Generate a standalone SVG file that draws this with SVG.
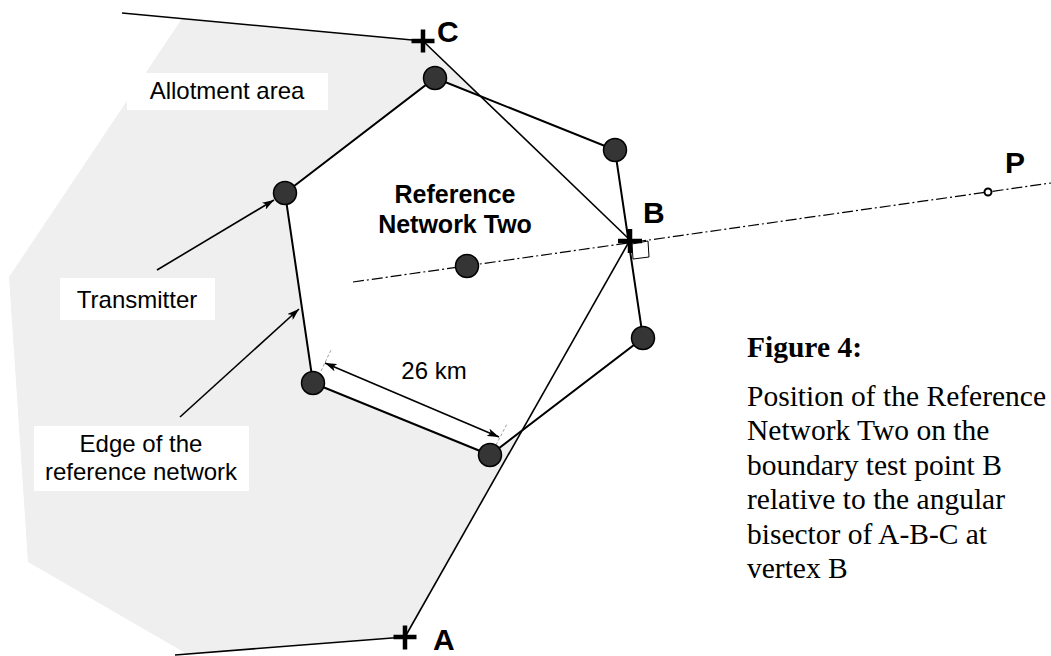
<svg xmlns="http://www.w3.org/2000/svg" width="1051" height="656" viewBox="0 0 1051 656">
<style>
.ln{stroke:#000;stroke-width:1.6;fill:none}
.edge{stroke:#000;stroke-width:2;fill:#fff}
.node{fill:#353535;stroke:#000;stroke-width:1.5}
.cross{stroke:#000;stroke-width:4.5;fill:none}
.lbl{font-family:"Liberation Sans",Arial,sans-serif;font-size:24px;fill:#000}
.blbl{font-family:"Liberation Sans",Arial,sans-serif;font-weight:bold;fill:#000}
.cap{font-family:"Liberation Serif","Times New Roman",serif;font-size:29.5px;fill:#000}
.box{fill:#fff;stroke:none}
.tick{stroke:#888;stroke-width:0.8;stroke-dasharray:3 2;fill:none}
</style>
<defs>
<marker id="ah" viewBox="0 0 12 8" refX="12" refY="4" markerWidth="12" markerHeight="8" orient="auto-start-reverse" markerUnits="userSpaceOnUse">
<path d="M0,0 L12,4 L0,8 L3,4 z" fill="#000"/>
</marker>
</defs>
<rect width="1051" height="656" fill="#fff"/>
<g id="allotment-area">
<polygon points="182,18.6 423,41 630,240 405,637 187,654 28,562 9,277" fill="#efefef"/>
</g>
<g id="reference-network">
<polygon class="edge" points="285,193 435,78 615,150 643,338 490,455 313,383"/>
</g>
<g id="connectors">
<line class="ln" x1="122" y1="13" x2="423" y2="41"/>
<line class="ln" x1="423" y1="41" x2="630" y2="240"/>
<line class="ln" x1="405" y1="637" x2="630" y2="240"/>
<line class="ln" x1="175" y1="655" x2="405" y2="637"/>
<line x1="353" y1="282" x2="1051" y2="183" stroke="#000" stroke-width="1.2" stroke-dasharray="11 3 2 3"/>
<line class="ln" x1="157" y1="270" x2="274" y2="200" stroke-width="1.3" marker-end="url(#ah)"/>
<line class="ln" x1="180" y1="417" x2="299" y2="309" stroke-width="1.3" marker-end="url(#ah)"/>
<line class="ln" x1="325" y1="363" x2="499" y2="437" stroke-width="1.3" marker-start="url(#ah)" marker-end="url(#ah)"/>
<line class="tick" x1="321" y1="371" x2="331" y2="350"/>
<line class="tick" x1="496" y1="445" x2="507" y2="424"/>
</g>
<g id="transmitters">
<circle class="node" cx="435" cy="78" r="11.5"/>
<circle class="node" cx="615" cy="150" r="11.5"/>
<circle class="node" cx="643" cy="338" r="11.5"/>
<circle class="node" cx="490" cy="455" r="11.5"/>
<circle class="node" cx="313" cy="383" r="11.5"/>
<circle class="node" cx="285" cy="193" r="11.5"/>
<circle class="node" cx="467" cy="266" r="11.5"/>
</g>
<g id="point-C">
<path class="cross" d="M411.5,41 H434.5 M423,29.5 V52.5"/>
<text class="blbl" x="437" y="42" font-size="30">C</text>
</g>
<g id="point-B">
<polygon points="632,244 648,241 649,257 633,259" fill="#fff" stroke="#000" stroke-width="1"/>
<path class="cross" d="M618,241 H642 M630,229 V253"/>
<text class="blbl" x="643" y="223" font-size="30">B</text>
</g>
<g id="point-A">
<path class="cross" d="M393.5,637 H416.5 M405,625.5 V649.5"/>
<text class="blbl" x="433" y="650" font-size="30">A</text>
</g>
<g id="point-P">
<circle cx="988" cy="192" r="3.5" fill="#fff" stroke="#000" stroke-width="2"/>
<text class="blbl" x="1005" y="173" font-size="30">P</text>
</g>
<g id="label-allotment">
<rect class="box" x="127" y="73" width="201" height="37"/>
<text class="lbl" x="227" y="99" text-anchor="middle">Allotment area</text>
</g>
<g id="label-network">
<text class="blbl" x="455" y="203" font-size="25" text-anchor="middle">Reference</text>
<text class="blbl" x="455" y="233" font-size="25" text-anchor="middle">Network Two</text>
</g>
<g id="label-transmitter">
<rect class="box" x="60" y="278" width="155" height="42"/>
<text class="lbl" x="137" y="308" text-anchor="middle">Transmitter</text>
</g>
<g id="label-edge">
<rect class="box" x="34" y="426" width="215" height="65"/>
<text class="lbl" x="141" y="452" text-anchor="middle">Edge of the</text>
<text class="lbl" x="141" y="480" text-anchor="middle">reference network</text>
</g>
<g id="label-26km">
<text class="lbl" x="434" y="379" text-anchor="middle">26 km</text>
</g>
<g id="caption">
<text class="cap" x="747" y="357" font-weight="bold">Figure 4:</text>
<text class="cap" x="747" y="406">Position of the Reference</text>
<text class="cap" x="747" y="440">Network Two on the</text>
<text class="cap" x="747" y="475">boundary test point B</text>
<text class="cap" x="747" y="509">relative to the angular</text>
<text class="cap" x="747" y="544">bisector of A-B-C at</text>
<text class="cap" x="747" y="578">vertex B</text>
</g>
</svg>
